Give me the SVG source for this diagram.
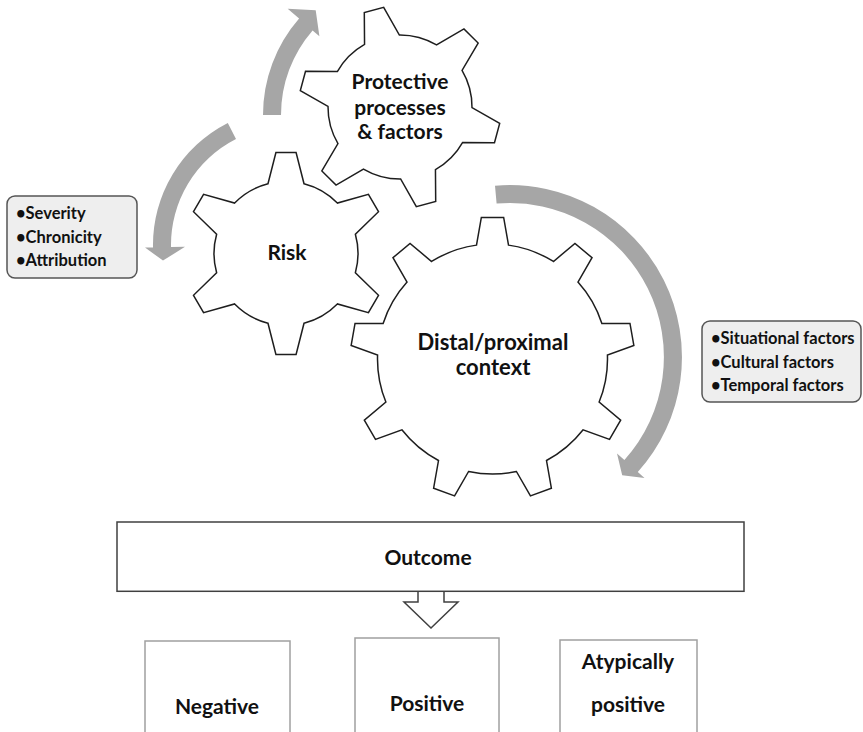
<svg xmlns="http://www.w3.org/2000/svg" width="863" height="732" viewBox="0 0 863 732">
<style>
.gear{fill:#fff;stroke:#1e1e1e;stroke-width:1.5;stroke-linejoin:miter}
.arr{fill:#a6a6a6;stroke:none}
.lbl{font-family:Lato,"Liberation Sans",sans-serif;font-weight:700;font-size:21px;fill:#111;text-anchor:middle}
.big{font-size:22px}
.blt{font-family:Lato,"Liberation Sans",sans-serif;font-weight:700;font-size:16.5px;fill:#111}
.note{fill:#eeeeee;stroke:#555;stroke-width:1.5}
.obox{fill:#fff;stroke:#404040;stroke-width:1.5}
.rbox{fill:#fff;stroke:#a0a0a0;stroke-width:1.5}
</style>
<rect width="863" height="732" fill="#fff"/>
<g id="connectors">
<path class="arr" d="M 227.8,122.9 A 137 137 0 0 0 153.0,247.4 L 145.0,247.5 L 163.0,260.6 L 185.0,246.8 L 171.0,247.1 A 119 119 0 0 1 236.0,139.0 Z"/>
<path class="arr" d="M 263,115 A 147 147 0 0 1 299.1,18.6 L 287.7,8.7 L 315.7,10.2 L 319.4,36.3 L 312.6,30.4 A 129 129 0 0 0 281,115 Z"/>
<path class="arr" d="M 495.0,185.7 A 172 172 0 0 1 637.8,472.1 L 644.5,478.1 L 622.2,475.2 L 617.0,453.4 L 624.4,460.0 A 154 154 0 0 0 496.6,203.6 Z"/>
<path fill="#fff" stroke="#404040" stroke-width="1.5" d="M 418,591.3 V 602 H 404 L 431,628 L 458,602 H 444 V 591.3"/>
</g>
<g id="protective">
<path class="gear" d="M 364.55,44.33 L 364.30,12.52 L 383.68,7.32 L 399.37,35.00 A 72 72 0 0 1 436.54,44.96 L 463.97,28.85 L 478.15,43.03 L 462.04,70.46 A 72 72 0 0 1 472.00,107.63 L 499.68,123.32 L 494.48,142.70 L 462.67,142.45 A 72 72 0 0 1 435.45,169.67 L 435.70,201.48 L 416.32,206.68 L 400.63,179.00 A 72 72 0 0 1 363.46,169.04 L 336.03,185.15 L 321.85,170.97 L 337.96,143.54 A 72 72 0 0 1 328.00,106.37 L 300.32,90.68 L 305.52,71.30 L 337.33,71.55 A 72 72 0 0 1 364.55,44.33 Z"/>
<text class="lbl" x="400" y="89">Protective</text>
<text class="lbl" x="400" y="115">processes</text>
<text class="lbl" x="400" y="139">&amp; factors</text>
</g>
<g id="risk">
<path class="gear" d="M 267.97,183.80 L 275.92,152.50 L 296.08,152.50 L 304.03,183.80 A 72 72 0 0 1 337.36,203.04 L 368.43,194.27 L 378.51,211.73 L 355.38,234.26 A 72 72 0 0 1 355.38,272.74 L 378.51,295.27 L 368.43,312.73 L 337.36,303.96 A 72 72 0 0 1 304.03,323.20 L 296.08,354.50 L 275.92,354.50 L 267.97,323.20 A 72 72 0 0 1 234.64,303.96 L 203.57,312.73 L 193.49,295.27 L 216.62,272.74 A 72 72 0 0 1 216.62,234.26 L 193.49,211.73 L 203.57,194.27 L 234.64,203.04 A 72 72 0 0 1 267.97,183.80 Z"/>
<text class="lbl" x="287" y="260">Risk</text>
</g>
<g id="distal">
<path class="gear" d="M 476.49,245.12 L 481.35,217.44 L 503.65,217.44 L 508.51,245.12 A 115 115 0 0 1 553.44,261.48 L 574.96,243.40 L 592.03,257.71 L 577.96,282.05 A 115 115 0 0 1 601.88,323.46 L 629.97,323.44 L 633.85,345.40 L 607.43,354.99 A 115 115 0 0 1 599.13,402.08 L 620.67,420.13 L 609.52,439.43 L 583.12,429.81 A 115 115 0 0 1 546.49,460.53 L 551.39,488.22 L 530.44,495.83 L 516.41,471.48 A 115 115 0 0 1 468.59,471.48 L 454.56,495.83 L 433.61,488.22 L 438.51,460.53 A 115 115 0 0 1 401.88,429.81 L 375.48,439.43 L 364.33,420.13 L 385.87,402.08 A 115 115 0 0 1 377.57,354.99 L 351.15,345.40 L 355.03,323.44 L 383.12,323.46 A 115 115 0 0 1 407.04,282.05 L 392.97,257.71 L 410.04,243.40 L 431.56,261.48 A 115 115 0 0 1 476.49,245.12 Z"/>
<text class="lbl big" x="493" y="350">Distal/proximal</text>
<text class="lbl big" x="493" y="375">context</text>
</g>
<g id="risk-notes">
<rect class="note" x="7" y="196" width="130" height="82" rx="8"/>
<text class="blt" x="16" y="219">•Severity</text>
<text class="blt" x="16" y="243">•Chronicity</text>
<text class="blt" x="16" y="266">•Attribution</text>
</g>
<g id="context-notes">
<rect class="note" x="702" y="321" width="159" height="81" rx="8"/>
<text class="blt" x="711" y="344">•Situational factors</text>
<text class="blt" x="711" y="368">•Cultural factors</text>
<text class="blt" x="711" y="391">•Temporal factors</text>
</g>
<g id="outcome">
<rect class="obox" x="117" y="522" width="627" height="69.3"/>
<text class="lbl" x="428" y="565">Outcome</text>
</g>
<g id="negative">
<rect class="rbox" x="145" y="641" width="145" height="100"/>
<text class="lbl" x="217" y="714">Negative</text>
</g>
<g id="positive">
<rect class="rbox" x="355" y="638" width="144" height="100"/>
<text class="lbl" x="427" y="711">Positive</text>
</g>
<g id="atypical">
<rect class="rbox" x="560" y="640" width="137" height="100"/>
<text class="lbl" x="628" y="669">Atypically</text>
<text class="lbl" x="628" y="712">positive</text>
</g>
</svg>
